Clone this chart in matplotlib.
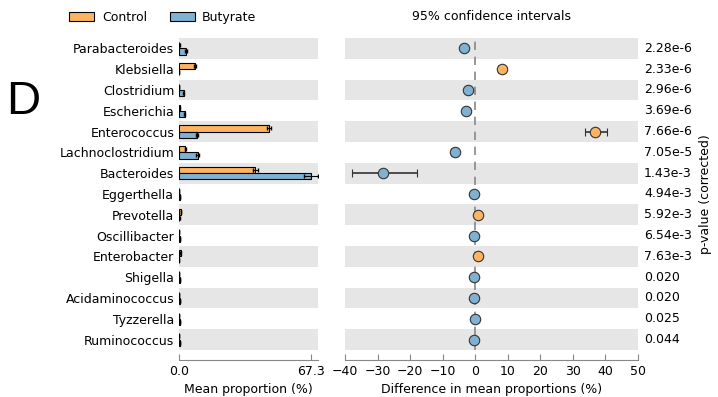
import matplotlib.pyplot as plt
import numpy as np

# genera, top to bottom
genera = ['Parabacteroides', 'Klebsiella', 'Clostridium', 'Escherichia', 'Enterococcus',
          'Lachnoclostridium', 'Bacteroides', 'Eggerthella', 'Prevotella', 'Oscillibacter',
          'Enterobacter', 'Shigella', 'Acidaminococcus', 'Tyzzerella', 'Ruminococcus']

# mean proportions (%) and their std errors
control = [0.2, 8.2, 0.1, 0.3, 46.0, 3.2, 39.0, 0.1, 0.9, 0.1, 0.8, 0.1, 0.1, 0.1, 0.1]
control_err = [0.1, 0.4, 0.1, 0.1, 1.0, 0.3, 1.2, 0.1, 0.1, 0.1, 0.1, 0.1, 0.1, 0.1, 0.1]
butyrate = [3.6, 0.1, 2.3, 3.0, 9.2, 9.6, 67.3, 0.6, 0.2, 0.6, 0.1, 0.4, 0.5, 0.4, 0.5]
butyrate_err = [0.3, 0.1, 0.3, 0.3, 0.6, 0.8, 3.5, 0.1, 0.1, 0.1, 0.1, 0.1, 0.1, 0.1, 0.1]

# difference in mean proportions with 95% CI
diff = [-3.4, 8.1, -2.2, -2.7, 36.8, -6.3, -28.3, -0.5, 0.9, -0.5, 0.7, -0.3, -0.3, -0.2, -0.3]
ci_low = [-4.2, 7.0, -2.9, -3.5, 33.6, -7.4, -38.0, -0.8, 0.5, -0.8, 0.4, -0.6, -0.6, -0.5, -0.6]
ci_high = [-2.6, 9.2, -1.5, -1.9, 40.5, -5.2, -18.0, -0.2, 1.3, -0.2, 1.0, 0.0, 0.0, 0.1, 0.0]

pvalues = ['2.28e-6', '2.33e-6', '2.96e-6', '3.69e-6', '7.66e-6', '7.05e-5', '1.43e-3',
           '4.94e-3', '5.92e-3', '6.54e-3', '7.63e-3', '0.020', '0.020', '0.025', '0.044']

c_control = '#FDB462'
c_butyrate = '#80B1D3'
band = '#e6e6e6'
fs = 9

fig = plt.figure(figsize=(7.18, 3.97), dpi=100)
ax1 = fig.add_axes([0.2493, 0.1184, 0.1936, 0.786])
ax2 = fig.add_axes([0.4805, 0.1184, 0.4081, 0.786])

y = np.arange(len(genera))
xmax = max(butyrate) * 1.053

for ax, lo, hi in [(ax1, 0, xmax), (ax2, -40, 50)]:
    for i in range(0, len(genera), 2):
        ax.axhspan(i - 0.5, i + 0.5, color=band, lw=0, zorder=0)
    ax.set_ylim(len(genera) - 0.5, -0.5)
    ax.set_xlim(lo, hi)
    for s in ['top', 'right', 'left']:
        ax.spines[s].set_visible(False)
    ax.spines['bottom'].set_position(('outward', 7))
    ax.spines['bottom'].set_color('#888888')
    ax.tick_params(axis='x', direction='in', colors='#888888', labelcolor='black',
                   labelsize=fs, length=4)
    ax.tick_params(axis='y', length=0)

# mean proportion bars
h = 0.3
ax1.barh(y - h / 2, control, height=h, color=c_control, edgecolor='black', lw=0.8,
         xerr=control_err, error_kw=dict(ecolor='black', lw=0.8, capsize=1.5), zorder=2)
ax1.barh(y + h / 2, butyrate, height=h, color=c_butyrate, edgecolor='black', lw=0.8,
         xerr=butyrate_err, error_kw=dict(ecolor='black', lw=0.8, capsize=1.5), zorder=2)
ax1.set_yticks(y)
ax1.set_yticklabels(genera, fontsize=fs)
ax1.set_xticks([0, max(butyrate)])
ax1.set_xticklabels(['0.0', '%.1f' % max(butyrate)])
ax1.set_xlabel('Mean proportion (%)', fontsize=fs, labelpad=4)

# difference plot
ax2.axvline(0, color='#888888', ls=(0, (5, 4)), lw=1.2, zorder=1)
for i in range(len(genera)):
    col = c_control if diff[i] > 0 else c_butyrate
    ax2.errorbar(diff[i], y[i], xerr=[[diff[i] - ci_low[i]], [ci_high[i] - diff[i]]],
                 fmt='o', ms=7.5, mfc=col, mec='#333333', mew=0.8,
                 ecolor='#333333', elinewidth=1.2, capsize=3, zorder=3)
ax2.set_yticks([])
ax2.set_xticks(np.arange(-40, 51, 10))
ax2.set_xlabel('Difference in mean proportions (%)', fontsize=fs, labelpad=4)
ax2.set_title('95% confidence intervals', fontsize=fs, pad=13)

# corrected p-values on the right
for i, p in enumerate(pvalues):
    ax2.text(1.02, y[i], p, transform=ax2.get_yaxis_transform(), ha='left',
             va='center', fontsize=fs)
fig.text(0.982, 0.51, 'p-value (corrected)', rotation=90, ha='center', va='center',
         fontsize=fs)

# legend
handles = [plt.Rectangle((0, 0), 1, 1, fc=c_control, ec='black', lw=0.8),
           plt.Rectangle((0, 0), 1, 1, fc=c_butyrate, ec='black', lw=0.8)]
fig.legend(handles, ['Control', 'Butyrate'], loc='center left', bbox_to_anchor=(0.081, 0.957),
           ncol=2, frameon=False, fontsize=fs, handlelength=2.0, handleheight=0.75,
           columnspacing=1.8, handletextpad=0.6)

fig.text(0.008, 0.743, 'D', fontsize=34, ha='left', va='center', family='Liberation Sans')

fig.savefig('out.png', dpi=100)
